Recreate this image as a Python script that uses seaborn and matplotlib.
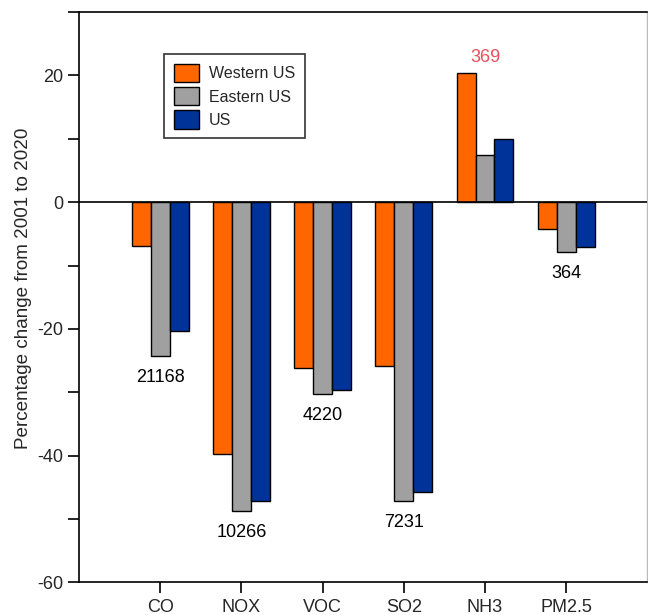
import pandas as pd
import matplotlib.pyplot as plt
import seaborn as sns
from matplotlib.patches import Patch
from matplotlib.ticker import MultipleLocator

# данные
pollutants = ['CO', 'NOX', 'VOC', 'SO2', 'NH3', 'PM2.5']
regions = ['Western US', 'Eastern US', 'US']
western = [-7.0, -39.8, -26.2, -25.9, 20.4, -4.2]
eastern = [-24.2, -48.8, -30.3, -47.1, 7.5, -7.9]
us_total = [-20.4, -47.2, -29.6, -45.7, 10.0, -7.1]
# количество станций / ячеек над или под группой
site_counts = ['21168', '10266', '4220', '7231', '369', '364']
count_colors = ['black', 'black', 'black', 'black', '#e8505b', 'black']

colors = ['#ff6600', '#a0a0a0', '#003399']

rows = []
for i, p in enumerate(pollutants):
    for reg, vals in zip(regions, [western, eastern, us_total]):
        rows.append({'Pollutant': p, 'Region': reg, 'Change': vals[i]})
df = pd.DataFrame(rows)

sns.set_style('ticks')
plt.rcParams['font.family'] = ['Liberation Sans', 'DejaVu Sans']
plt.rcParams['axes.unicode_minus'] = False

fig = plt.figure(figsize=(6.48, 6.15), dpi=100)
ax = fig.add_axes([0.122, 0.053, 0.877, 0.9275])

sns.barplot(data=df, x='Pollutant', y='Change', hue='Region', order=pollutants,
            hue_order=regions, palette=colors, width=0.7, edgecolor='black',
            linewidth=1, saturation=1, ax=ax, legend=False)

ax.axhline(0, color='black', linewidth=1.2, zorder=3)
ax.set_xlim(-1, 6)
ax.set_ylim(-60, 30)
ax.yaxis.set_major_locator(MultipleLocator(20))
ax.yaxis.set_minor_locator(MultipleLocator(10))
ax.set_yticks([-60, -40, -20, 0, 20])
ax.tick_params(axis='both', which='both', direction='out', length=8, width=1.2,
               color='black', labelsize=13)
ax.tick_params(axis='x', pad=4)

ax.set_xlabel('')
ax.set_ylabel('Percentage change from 2001 to 2020', fontsize=13.6)
ax.yaxis.set_label_coords(-0.083, 0.515)

for side in ['left', 'bottom', 'top']:
    ax.spines[side].set_color('black')
    ax.spines[side].set_linewidth(1.2)
ax.spines['right'].set_color('#bbbbbb')
ax.spines['right'].set_linewidth(1)

# подписи чисел у групп
for i, txt in enumerate(site_counts):
    vals = [western[i], eastern[i], us_total[i]]
    if min(vals) >= 0:
        ax.text(i, max(vals) + 1.0, txt, ha='center', va='bottom',
                fontsize=13, color=count_colors[i])
    else:
        ax.text(i, min(vals) - 3.4, txt, ha='center', va='center',
                fontsize=13, color=count_colors[i])

handles = [Patch(facecolor=c, edgecolor='black', linewidth=1) for c in colors]
leg = ax.legend(handles, regions, loc='upper left', bbox_to_anchor=(0.15, 0.926),
                borderaxespad=0, fontsize=11.5, frameon=True, fancybox=False,
                edgecolor='black', handlelength=1.6, handleheight=1.4,
                labelspacing=0.3, borderpad=0.6, handletextpad=0.6)
leg.get_frame().set_linewidth(1.2)

plt.savefig('out.png', dpi=100)
